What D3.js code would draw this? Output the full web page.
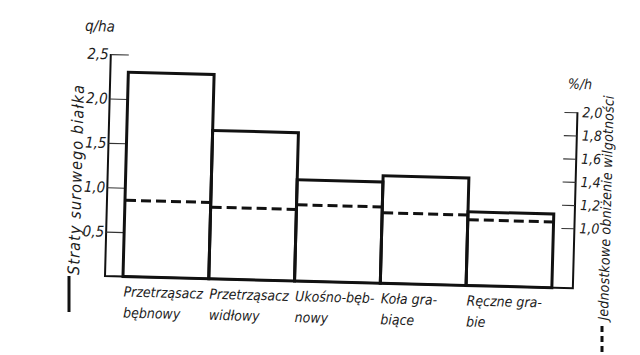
<!DOCTYPE html>
<html><head><meta charset="utf-8">
<script src="https://cdn.jsdelivr.net/npm/d3@7"></script>
<style>
body{margin:0;background:#fff}
text{font-family:"Liberation Sans Narrow","DejaVu Sans Condensed",sans-serif;font-style:italic;fill:#1c1c1c}
</style>
</head><body><svg id="c" width="640" height="355"></svg>
<script>
// ---- data ----
const categories = ["Przetrząsacz bębnowy","Przetrząsacz widłowy","Ukośno-bębnowy","Koła grabiące","Ręczne grabie"];
const categoryLines = [["Przetrząsacz","bębnowy"],["Przetrząsacz","widłowy"],["Ukośno-bęb-","nowy"],["Koła gra-","biące"],["Ręczne gra-","bie"]];
const proteinLoss = [2.30, 1.67, 1.14, 1.21, 0.83];   // q/ha (bars, left axis)
const moistureDrop = [1.14, 1.10, 1.14, 1.09, 1.05];  // %/h (dashed, right axis)
const leftTicks = [0.5, 1.0, 1.5, 2.0, 2.5];
const rightTicks = [1.0, 1.2, 1.4, 1.6, 1.8, 2.0];
const leftTitle = "Straty surowego białka";
const rightTitle = "Jednostkowe obniżenie wilgotności";
const leftUnit = "q/ha";
const rightUnit = "%/h";

// ---- layout ----
const ANG = 1.5, CX = 105, CY = 276;
const rad = ANG * Math.PI / 180, cs = Math.cos(rad), sn = Math.sin(rad);
function unrot(sx, sy) { // screen -> unrotated frame
  return [CX + (sx - CX) * cs + (sy - CY) * sn, CY - (sx - CX) * sn + (sy - CY) * cs];
}
const axisL = 105, axisR = 573, base = 276;
const fmt = d => d.toFixed(1).replace('.', ',');

const svg = d3.select("#c");
const g = svg.append("g").attr("transform", `rotate(${ANG},${CX},${CY})`);

const x = d3.scaleBand().domain(categories).range([123, 552]).padding(0);
const yL = d3.scaleLinear().domain([0, 2.5]).range([base, 54]);
const yR = d3.scaleLinear().domain([0.5, 2.0]).range([274, 100]);

// frame
g.append("path").attr("fill", "none").attr("stroke", "#111").attr("stroke-width", 2)
  .attr("d", `M${axisL},${yL(2.5)}V${base}H${axisR}V${yR(2.0)}`);

// left axis ticks
const la = d3.axisRight(yL).tickValues(leftTicks).tickSize(x.range()[0] - axisL).tickFormat("");
const lag = g.append("g").attr("transform", `translate(${axisL},0)`).call(la);
lag.select(".domain").remove();
lag.selectAll("line").attr("stroke", "#333").attr("stroke-width", 1.1);
g.selectAll(".ltl").data(leftTicks).join("text").attr("class", "ltl")
  .attr("x", axisL - 2).attr("y", d => yL(d)).attr("dy", "0.35em")
  .attr("text-anchor", "end").attr("font-size", 15).text(fmt);

// right axis ticks
const ra = d3.axisLeft(yR).tickValues(rightTicks).tickSize(13).tickFormat("");
const rag = g.append("g").attr("transform", `translate(${axisR},0)`).call(ra);
rag.select(".domain").remove();
rag.selectAll("line").attr("stroke", "#333").attr("stroke-width", 1.1);
g.selectAll(".rtl").data(rightTicks).join("text").attr("class", "rtl")
  .attr("x", axisR + 5).attr("y", d => yR(d)).attr("dy", "0.35em")
  .attr("text-anchor", "start").attr("font-size", 14).text(fmt);

// bars
g.selectAll(".bar").data(categories).join("rect").attr("class", "bar")
  .attr("x", d => x(d)).attr("width", x.bandwidth())
  .attr("y", (d, i) => yL(proteinLoss[i])).attr("height", (d, i) => base - yL(proteinLoss[i]))
  .attr("fill", "none").attr("stroke", "#111").attr("stroke-width", 3);

// dashed series
g.selectAll(".dash").data(categories).join("line").attr("class", "dash")
  .attr("x1", d => x(d) + 1).attr("x2", d => x(d) + x.bandwidth())
  .attr("y1", (d, i) => yR(moistureDrop[i])).attr("y2", (d, i) => yR(moistureDrop[i]))
  .attr("stroke", "#111").attr("stroke-width", 3).attr("stroke-dasharray", "10,5");

// category labels
const cl = g.selectAll(".cat").data(categories).join("text").attr("class", "cat")
  .attr("font-size", 14).attr("x", d => x(d) + 1).attr("y", base + 20);
cl.selectAll("tspan").data((d, i) => categoryLines[i]).join("tspan")
  .attr("x", function () { return d3.select(this.parentNode).attr("x"); })
  .attr("dy", (d, j) => j === 0 ? 0 : 21).text(d => d);

// unit labels
let p = unrot(100, 26);
g.append("text").attr("x", p[0]).attr("y", p[1]).attr("dy", "0.35em").attr("text-anchor", "middle")
  .attr("font-size", 15).text(leftUnit);
p = unrot(580, 84);
g.append("text").attr("x", p[0]).attr("y", p[1]).attr("dy", "0.35em").attr("text-anchor", "middle")
  .attr("font-size", 14).text(rightUnit);

// axis titles
p = unrot(76, 180);
g.append("text").attr("transform", `translate(${p[0]},${p[1]}) rotate(-90)`)
  .attr("text-anchor", "middle").attr("dy", "0.35em").attr("font-size", 16)
  .attr("textLength", 190).attr("lengthAdjust", "spacing").text(leftTitle);
p = unrot(606, 208);
g.append("text").attr("transform", `translate(${p[0]},${p[1]}) rotate(-90)`)
  .attr("text-anchor", "middle").attr("dy", "0.35em").attr("font-size", 14)
  .attr("textLength", 225).attr("lengthAdjust", "spacing").text(rightTitle);

// legend keys
let a = unrot(69, 276), b = unrot(69, 312);
g.append("line").attr("x1", a[0]).attr("y1", a[1]).attr("x2", b[0]).attr("y2", b[1])
  .attr("stroke", "#111").attr("stroke-width", 3);
a = unrot(602, 326); b = unrot(602, 358);
g.append("line").attr("x1", a[0]).attr("y1", a[1]).attr("x2", b[0]).attr("y2", b[1])
  .attr("stroke", "#111").attr("stroke-width", 3).attr("stroke-dasharray", "6,4");
</script>
</body></html>
